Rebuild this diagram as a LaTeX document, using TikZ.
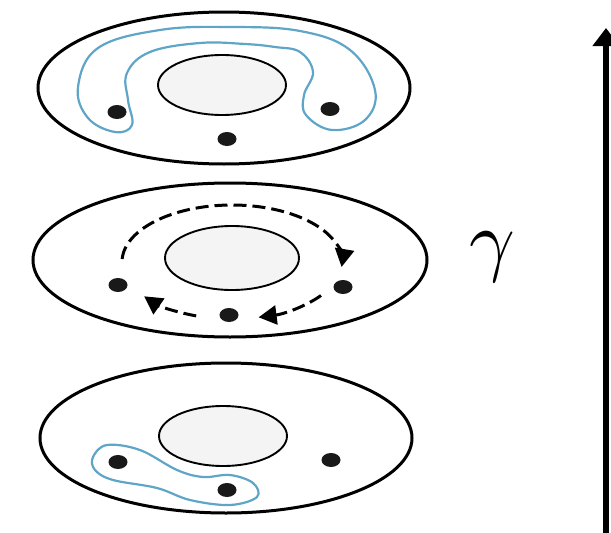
\documentclass[tikz,border=0pt]{standalone}
\usetikzlibrary{arrows.meta,shapes.geometric}
\definecolor{loopblue}{RGB}{95,165,200}
\definecolor{holegray}{RGB}{244,244,244}
\tikzset{
  outer/.style={draw=black,line width=3pt},
  hole/.style={draw=black,line width=1.9pt,fill=holegray},
  puncture/.style={ellipse,fill=black!90,draw=none,minimum width=19pt,minimum height=14pt,inner sep=0pt},
  loopcurve/.style={draw=loopblue,line width=2.2pt},
  flow/.style={line width=3pt,dash pattern=on 13pt off 6pt,-{Triangle[length=18pt,width=19pt]}},
}
\begin{document}
\begin{tikzpicture}[x=1pt,y=-1pt]
\useasboundingbox (0,0) rectangle (611,533);
% ---------- top disk ----------
\draw[outer] (224,88) ellipse [x radius=186,y radius=76];
\draw[hole] (222,85) ellipse [x radius=64,y radius=30];
\draw[loopcurve] plot[smooth cycle,tension=0.65] coordinates {
  (78,87) (98,48) (160,30) (230,27) (300,31) (350,50) (375,90) (365,120) (332,130) (306,115)
  (304,95) (313,72) (300,52) (275,47) (245,44) (200,43) (150,52) (127,73) (128,100) (132,125) (115,132) (88,118)};
\node[puncture] (t1) at (117,112) {};
\node[puncture] (t2) at (227,139) {};
\node[puncture] (t3) at (330,109) {};
% ---------- middle disk ----------
\draw[outer] (230,260) ellipse [x radius=197,y radius=77];
\draw[hole] (232,258) ellipse [x radius=67,y radius=32];
\node[puncture] (m1) at (118,285) {};
\node[puncture] (m2) at (229,315) {};
\node[puncture] (m3) at (343,287) {};
\coordinate (mc) at (232,262);
\draw[flow] (mc) ++(183:110 and 57) arc[start angle=183,end angle=365,x radius=110,y radius=57];
\draw[flow] (mc) ++(36:110 and 57) arc[start angle=36,end angle=76,x radius=110,y radius=57];
\draw[flow] (mc) ++(109:110 and 57) arc[start angle=109,end angle=143,x radius=110,y radius=57];
% ---------- bottom disk ----------
\draw[outer] (226,438) ellipse [x radius=186,y radius=75];
\draw[hole] (223,436) ellipse [x radius=64,y radius=30];
\draw[loopcurve] plot[smooth cycle,tension=0.6] coordinates {
  (93,457) (107,445) (140,450) (177,470) (203,477) (230,475) (253,483) (257,497) (230,505)
  (190,500) (157,488) (113,480) (95,470)};
\node[puncture] (b1) at (118,462) {};
\node[puncture] (b2) at (227,490) {};
\node[puncture] (b3) at (331,460) {};
% ---------- time arrow ----------
\coordinate (abot) at (606,540);
\coordinate (atop) at (606,28);
\draw[line width=6pt,-{Triangle[length=18pt,width=26pt]}] (abot) -- (atop);
\node (gamma) at (492,257) {\scalebox{8}{$\gamma$}};
\end{tikzpicture}
\end{document}
